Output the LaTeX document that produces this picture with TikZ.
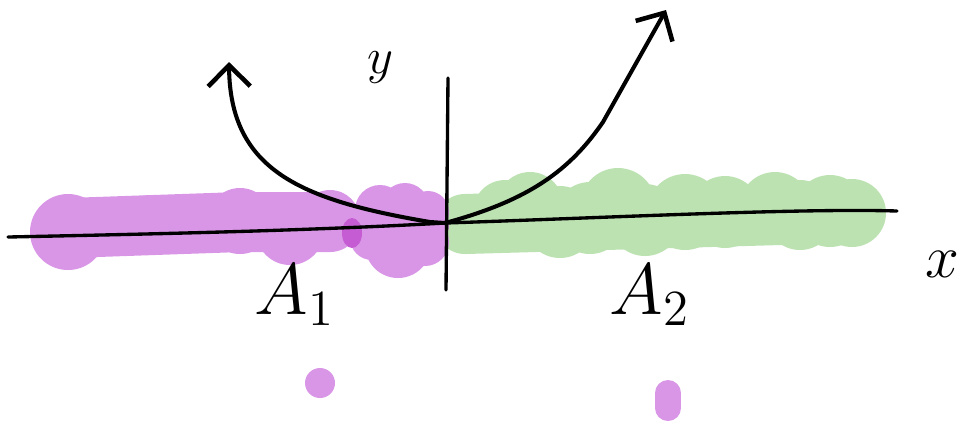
\documentclass[tikz,border=0pt]{standalone}
\usepackage{xcolor}
\usepackage{tikz}
\usetikzlibrary{arrows.meta}
\definecolor{blobpurple}{RGB}{217, 150, 230}
\definecolor{blobdark}{RGB}{198, 92, 212}
\definecolor{blobgreen}{RGB}{189, 226, 178}

\begin{document}
\begin{tikzpicture}[
    x=0.01cm, y=-0.01cm,
    band/.style={line width=0.6cm, line cap=round},
    axis/.style={line width=0.95pt, line cap=round},
    curve/.style={line width=1.15pt, line cap=round,
      -{Straight Barb[length=6pt, width=12pt, line width=1.3pt]}},
    lbl/.style={font=\fontsize{20}{20}\selectfont}
]
  \useasboundingbox (0,0) rectangle (961,426);

  % green region
  \draw[band, blobgreen] (465,224) -- (850,213);
  \foreach \cx/\cy/\r in {468/222/26, 505/212/32, 530/205/33, 560/222/36,
      590/218/36, 618/206/38, 645/220/36, 685/212/38, 725/212/36,
      775/208/36, 800/215/35, 830/211/36, 852/213/34}
    \fill[blobgreen] (\cx,\cy) circle (\r);

  % purple region
  \draw[band, blobpurple] (68,228) -- (240,222) -- (330,222);
  \foreach \cx/\cy/\r in {68/232/38, 150/225/30, 240/221/33, 290/231/34,
      330/220/30, 380/210/25, 405/207/24, 428/212/21, 372/238/22,
      398/245/33, 425/242/24, 430/225/19}
    \fill[blobpurple] (\cx,\cy) circle (\r);
  \fill[blobdark] (352,233) ellipse [x radius=10, y radius=15];

  \fill[blobpurple] (320,383) circle (15);
  \draw[blobpurple, line width=0.26cm, line cap=round] (668,393) -- (668,408);

  % axes
  \coordinate (xl) at (8,237);
  \coordinate (xr) at (897,211);
  \coordinate (yt) at (448,78);
  \coordinate (yb) at (446,290);
  \coordinate (o)  at (445,223);
  \draw[axis] (xl) .. controls (150,234) and (300,231) .. (o)
              .. controls (600,218) and (800,208) .. (xr);
  \draw[axis] (yt) -- (yb);

  % the curve
  \coordinate (ltip) at (229,62);
  \coordinate (rtip) at (666,10);
  \draw[curve] (o) -- (430,222) .. controls (300,200) and (230,170) .. (ltip);
  \draw[curve] (o) .. controls (530,200) and (570,170) .. (603,122) -- (rtip);

  \node[lbl] (ylab) at (380,68) {\fontsize{15}{15}\selectfont$y$};
  \node[lbl] (xlab) at (942,264) {\fontsize{17}{17}\selectfont$x$};
  \node[lbl] (aone) at (295,295) {$A_{1}$};
  \node[lbl] (atwo) at (650,295) {$A_{2}$};
\end{tikzpicture}
\end{document}
